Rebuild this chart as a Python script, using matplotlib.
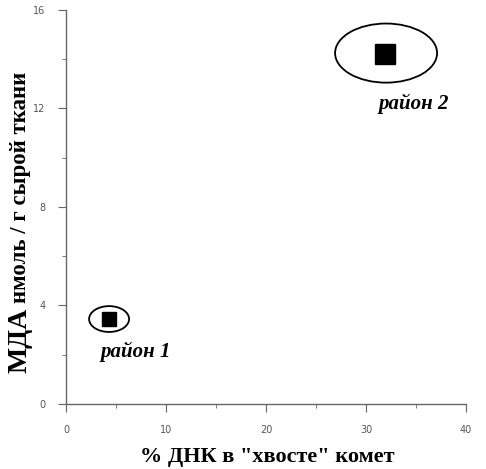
import numpy as np
import matplotlib.pyplot as plt
from matplotlib.patches import Ellipse

# Data
regions = ["район 1", "район 2"]
dna_tail = [4.3, 31.9]        # % ДНК в "хвосте" комет
mda = [3.45, 14.2]            # МДА нмоль / г сырой ткани
ell_w = [4.0, 10.2]
ell_h = [1.05, 2.4]
ell_cx = [4.3, 32.0]
ell_cy = [3.45, 14.25]
marker_sz = [10, 14]
label_xy = [(3.4, 2.1), (31.2, 12.2)]

fig = plt.figure(figsize=(4.86, 4.69), dpi=100)
ax = fig.add_axes([0.136, 0.1386, 0.823, 0.8401])

grey = "#666666"
for i in range(len(regions)):
    ax.plot(dna_tail[i], mda[i], marker="s", color="black", ms=marker_sz[i], ls="none")
    ax.add_patch(Ellipse((ell_cx[i], ell_cy[i]), ell_w[i], ell_h[i],
                         fill=False, ec="black", lw=1.3))
    ax.text(label_xy[i][0], label_xy[i][1], regions[i], family="Liberation Serif",
            style="italic", weight="bold", fontsize=15, ha="left", va="center")

ax.set_xlim(0, 40)
ax.set_ylim(0, 16)
ax.set_xticks([0, 10, 20, 30, 40])
ax.set_xticks([5, 15, 25, 35], minor=True)
ax.set_yticks([0, 4, 8, 12, 16])
ax.set_yticks([2, 6, 10, 14], minor=True)

for s in ["top", "right"]:
    ax.spines[s].set_visible(False)
for s in ["left", "bottom"]:
    ax.spines[s].set_color(grey)
    ax.spines[s].set_linewidth(1.0)
ax.tick_params(which="major", direction="out", length=6, color=grey,
               labelsize=7, labelcolor="#555555", pad=9)
ax.tick_params(which="minor", direction="out", length=3, color=grey)

# x label
fig.text(0.550, 0.004, '% ДНК в "хвосте" комет', family="Liberation Serif",
         weight="bold", fontsize=16, ha="center", va="bottom")
# y label: "МДА" is set larger than the rest
fig.text(0.041, 0.205, "МДА", family="Liberation Serif", weight="bold",
         fontsize=20, rotation=90, ha="center", va="bottom")
fig.text(0.043, 0.354, "нмоль / г сырой ткани", family="Liberation Serif",
         weight="bold", fontsize=16.5, rotation=90, ha="center", va="bottom")

fig.savefig("out.png", dpi=100)
